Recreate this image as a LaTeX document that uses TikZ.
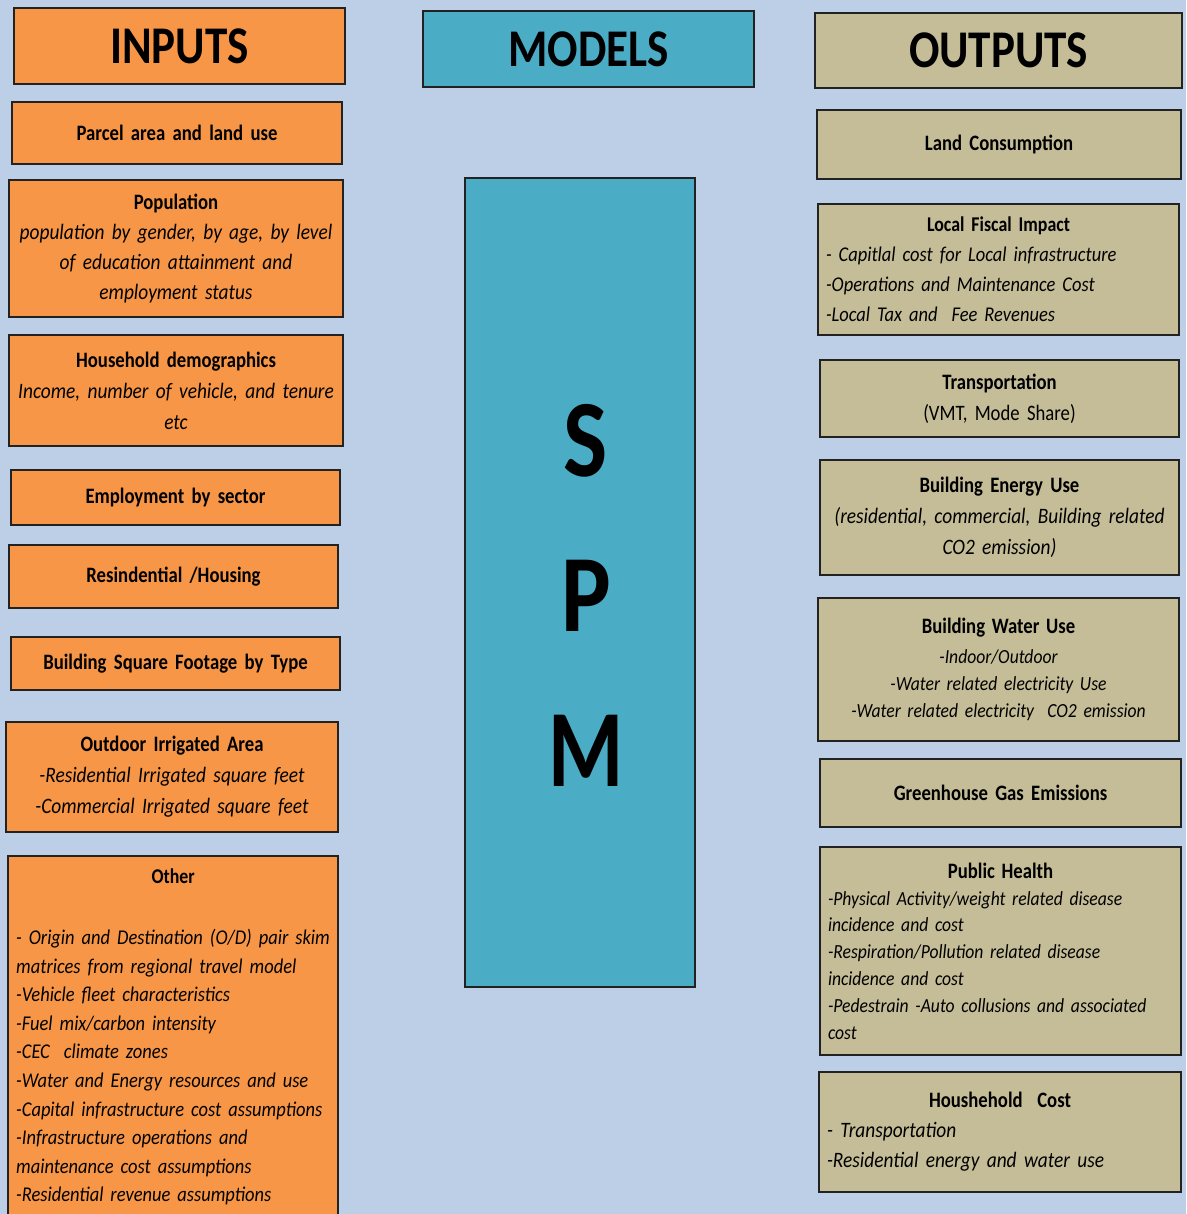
\documentclass[tikz,border=0pt]{standalone}
\usepackage{fontspec}
\setmainfont{Carlito}[FakeStretch=0.85, ItalicFeatures={FakeStretch=0.88}]
\definecolor{bgc}{HTML}{BDCFE7}
\definecolor{orgc}{HTML}{F79646}
\definecolor{tealc}{HTML}{4BACC6}
\definecolor{tanc}{HTML}{C4BD97}
\definecolor{edgec}{HTML}{222222}
\tikzset{
  box/.style={draw=edgec, line width=1.6pt, rectangle, inner xsep=8pt, inner ysep=0pt, align=center},
  inbox/.style={box, fill=orgc},
  modbox/.style={box, fill=tealc},
  outbox/.style={box, fill=tanc},
  bigtitle/.style={font=\fontsize{53}{58}\selectfont\bfseries},
  body/.style={font=\fontsize{22}{30}\selectfont},
}
\newcommand{\ttl}[1]{{\bfseries #1}}
\begin{document}
\begin{tikzpicture}[x=1pt,y=-1pt]
\path[use as bounding box, fill=bgc] (0,0) rectangle (1186,1214);
\clip (0,0) rectangle (1186,1214);

% ---------- INPUTS ----------
\node[inbox, bigtitle, minimum width=331pt, minimum height=76pt, text width=315pt] (inputs) at (179.5,46) {INPUTS};
\node[inbox, body, minimum width=330pt, minimum height=62pt, text width=314pt] (parcel) at (177,133) {\ttl{Parcel area and land use}};
\node[inbox, body, minimum width=334pt, minimum height=137pt, text width=318pt] (population) at (176,248.5)
  {\ttl{Population}\\ \itshape population by gender, by age, by level\\ of education attainment and\\ employment status};
\node[inbox, body, font=\fontsize{22}{31}\selectfont, minimum width=334pt, minimum height=111pt, text width=318pt] (household) at (176,390.5)
  {\ttl{Household demographics}\\ \itshape Income, number of vehicle, and tenure\\ etc};
\node[inbox, body, minimum width=329pt, minimum height=55pt, text width=313pt] (employment) at (175.5,497.5) {\ttl{Employment by sector}};
\node[inbox, body, minimum width=329pt, minimum height=63pt, text width=313pt] (resind) at (173.5,576.5) {\ttl{Resindential /Housing}};
\node[inbox, body, minimum width=329pt, minimum height=53pt, text width=313pt] (bsq) at (175.5,663.5) {\ttl{Building Square Footage by Type}};
\node[inbox, body, font=\fontsize{22}{31}\selectfont, minimum width=332pt, minimum height=110pt, text width=316pt] (outdoor) at (172,777)
  {\ttl{Outdoor Irrigated Area}\\ \itshape -Residential Irrigated square feet\\ -Commercial Irrigated square feet};
\node[inbox, minimum width=330pt, minimum height=372pt, anchor=north] (other) at (173,855) {};
\node[anchor=north west, inner sep=0pt, text width=314pt, align=left, font=\fontsize{21}{28.6}\selectfont] (othertext) at (16,869)
  {\makebox[314pt]{\ttl{Other}}\\[32pt]
   \itshape - Origin and Destination (O/D) pair skim\\
   matrices from regional travel model\\
   -Vehicle fleet characteristics\\
   -Fuel mix/carbon intensity\\
   -CEC\ \ climate zones\\
   -Water and Energy resources and use\\
   -Capital infrastructure cost assumptions\\
   -Infrastructure operations and\\
   maintenance cost assumptions\\
   -Residential revenue assumptions};

% ---------- MODELS ----------
\node[modbox, bigtitle, minimum width=331pt, minimum height=76pt, text width=315pt] (models) at (588.5,49) {MODELS};
\node[modbox, minimum width=230pt, minimum height=809pt] (spm) at (580,582.5) {};
\node[inner sep=0pt, align=center, font=\fontsize{110}{155}\selectfont\bfseries] (spmtext) at (586,595.5)
  {S\\P\\\scalebox{0.92}[1]{M}};

% ---------- OUTPUTS ----------
\node[outbox, bigtitle, minimum width=367pt, minimum height=75pt, text width=351pt] (outputs) at (998.5,50.5) {OUTPUTS};
\node[outbox, body, minimum width=364pt, minimum height=69pt, text width=348pt] (land) at (999,144.5) {\ttl{Land Consumption}};
\node[outbox, body, font=\fontsize{21}{30}\selectfont, align=left, minimum width=361pt, minimum height=131pt, text width=345pt] (fiscal) at (998.5,269.5)
  {\makebox[345pt]{\ttl{Local Fiscal Impact}}\\ \itshape - Capitlal cost for Local infrastructure\\ -Operations and Maintenance Cost\\ -Local Tax and\ \ Fee Revenues};
\node[outbox, body, font=\fontsize{22}{31}\selectfont, minimum width=359pt, minimum height=77pt, text width=343pt] (transport) at (999.5,398.5)
  {\ttl{Transportation}\\ (VMT, Mode Share)};
\node[outbox, body, font=\fontsize{22}{31}\selectfont, minimum width=359pt, minimum height=115pt, text width=343pt] (energy) at (999.5,517.5)
  {\ttl{Building Energy Use}\\ \itshape (residential, commercial, Building related\\ CO2 emission)};
\node[outbox, body, font=\fontsize{20}{26.8}\selectfont, minimum width=361pt, minimum height=143pt, text width=345pt] (water) at (998.5,669.5)
  {{\fontsize{22}{30}\selectfont\ttl{Building Water Use}}\\[3pt] \itshape -Indoor/Outdoor\\ -Water related electricity Use\\ -Water related electricity\ \ CO2 emission};
\node[outbox, body, minimum width=361pt, minimum height=68pt, text width=345pt] (ghg) at (1000.5,793) {\ttl{Greenhouse Gas Emissions}};
\node[outbox, body, font=\fontsize{20}{26.8}\selectfont, align=left, minimum width=361pt, minimum height=208pt, text width=345pt] (health) at (1000.5,951)
  {\makebox[345pt]{\fontsize{22}{26.8}\selectfont\ttl{Public Health}}\\ \itshape -Physical Activity/weight related disease\\ incidence and cost\\ -Respiration/Pollution related disease\\ incidence and cost\\ -Pedestrain -Auto collusions and associated\\ cost};
\node[outbox, body, align=left, minimum width=362pt, minimum height=120pt, text width=346pt] (hhcost) at (1000,1132)
  {\makebox[346pt]{\ttl{Houshehold\ \ Cost}}\\ \itshape - Transportation\\ -Residential energy and water use};
\end{tikzpicture}
\end{document}
